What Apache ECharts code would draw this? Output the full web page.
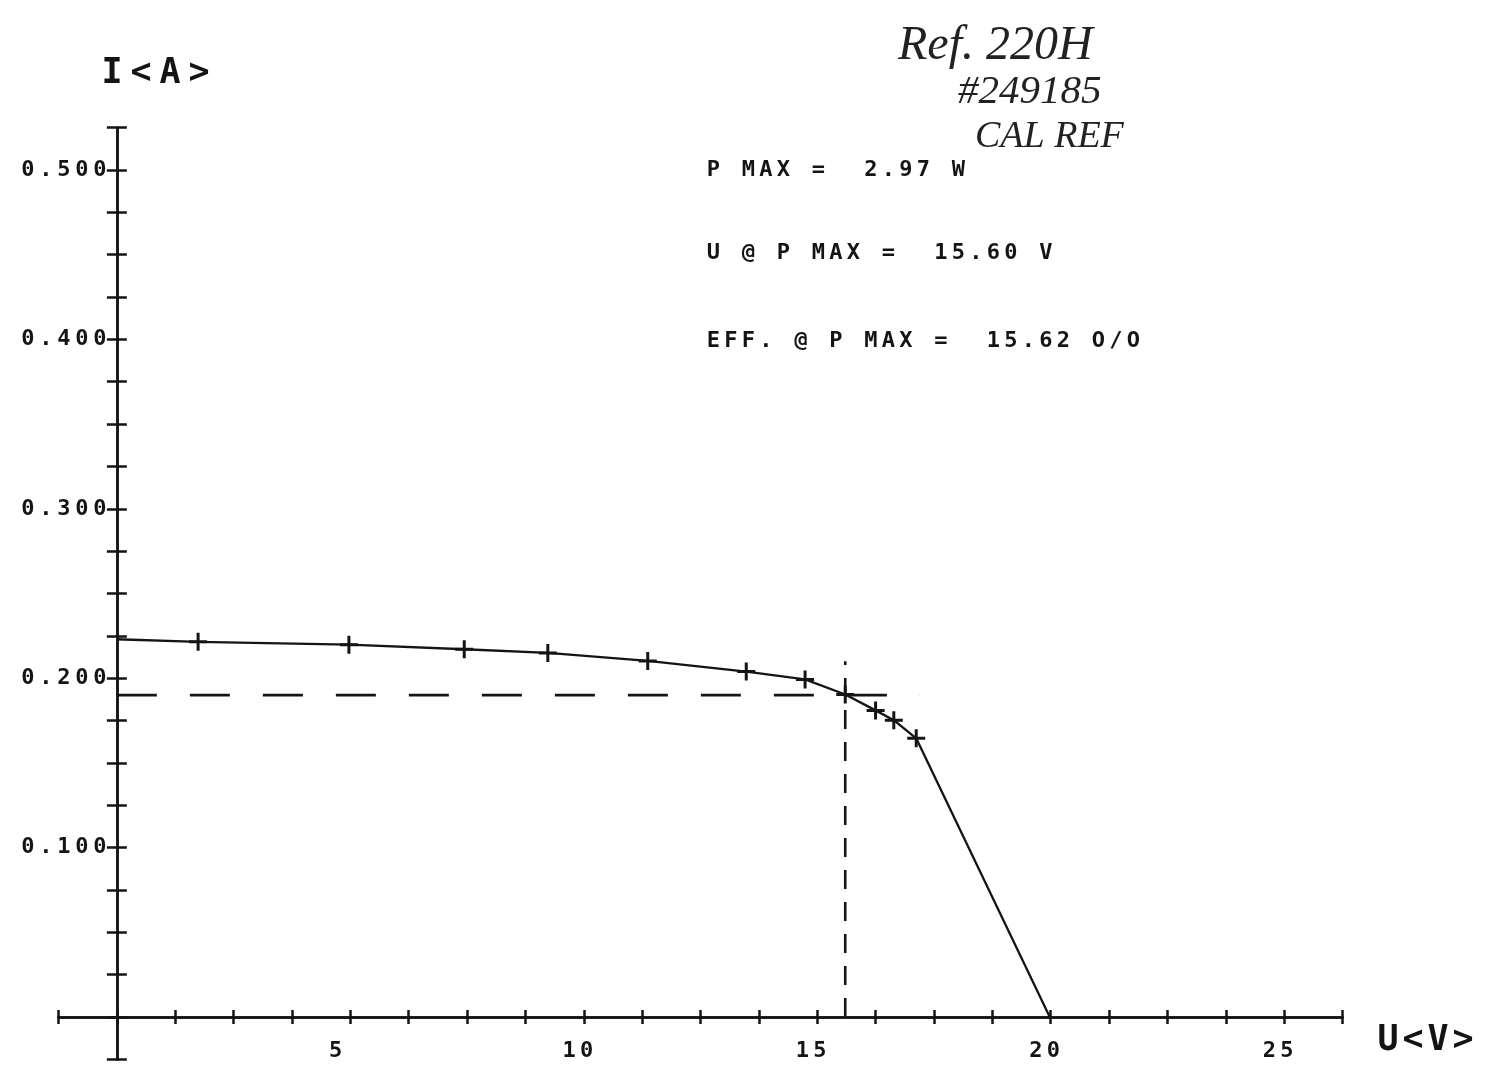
<!DOCTYPE html>
<html>
<head>
<meta charset="utf-8">
<script src="https://cdn.jsdelivr.net/npm/echarts@6/dist/echarts.min.js"></script>
<style>
html,body{margin:0;padding:0;background:#ffffff;}
#chart{width:1506px;height:1088px;}
</style>
</head>
<body>
<div id="chart"></div>
<script>
// ---- data ----
const voltage = [0, 1.74, 4.97, 7.44, 9.23, 11.37, 13.48, 14.74, 15.60, 16.25, 16.64, 17.12, 19.98];
const current = [0.2230, 0.2215, 0.2198, 0.2171, 0.2149, 0.2102, 0.2039, 0.1993, 0.1904, 0.1810, 0.1752, 0.1645, 0];
const hDashV = [0, 17.2];
const hDashI = [0.19, 0.19];
const vDashV = [15.6, 15.6];
const vDashI = [0, 0.21];
const xLabelValues = [5, 10, 15, 20, 25];
const xTickLabels = ['5', '10', '15', '20', '25'];
const yLabelValues = [0.1, 0.2, 0.3, 0.4, 0.5];
const yTickLabels = ['0.100', '0.200', '0.300', '0.400', '0.500'];
const xAxisName = 'U<V>';
const yAxisName = 'I<A>';
const notes = ['P MAX =  2.97 W', 'U @ P MAX =  15.60 V', 'EFF. @ P MAX =  15.62 O/O'];
const handNotes = ['Ref. 220H', '#249185', 'CAL REF'];
const xRange = [-1.25, 26.25, 1.25];
const yRange = [-0.025, 0.525, 0.025];

// ---- styling ----
const INK = '#141414';
const MONO = '"DejaVu Sans Mono", "Liberation Mono", monospace';
const HAND = '"Liberation Serif", "DejaVu Serif", serif';
const CROSS = 'path://M-1.5,-9L1.5,-9L1.5,9L-1.5,9ZM-9,-1.5L9,-1.5L9,1.5L-9,1.5Z';

function cells(str, key) {
  return str.split('').map(ch => '{' + key + '|' + ch + '}').join('');
}
function findLabel(v, vals, labels) {
  for (let i = 0; i < vals.length; i++) {
    if (Math.abs(v - vals[i]) < 1e-6) return labels[i];
  }
  return null;
}

const labelCell = (w, size) => ({
  width: w, color: INK, fontSize: size,
  fontFamily: MONO, fontWeight: 'bold'
});
const monoCellG = (w, size) => ({
  width: w, align: 'center', fill: INK, fontSize: size,
  fontFamily: MONO, fontWeight: 'bold'
});

const chart = echarts.init(document.getElementById('chart'), null, {renderer: 'canvas'});

const gridRect = {left: 58.5, right: 163.5, top: 127.65, bottom: 28.65, outerBoundsMode: 'none', containLabel: false};

const axisLineStyle = {color: INK, width: 2.5};

const option = {
  backgroundColor: '#ffffff',
  animation: false,
  grid: [Object.assign({}, gridRect), Object.assign({}, gridRect)],
  xAxis: [
    {
      gridIndex: 0, type: 'value',
      min: xRange[0], max: xRange[1], interval: xRange[2],
      axisLine: {show: true, onZero: true, lineStyle: axisLineStyle},
      axisTick: {show: true, inside: false, length: 7, lineStyle: axisLineStyle},
      splitLine: {show: false},
      axisLabel: {
        show: true, margin: -19, showMinLabel: true, showMaxLabel: true,
        formatter: function (v) {
          const t = findLabel(v, xLabelValues, xTickLabels);
          if (t === null) return '';
          const padded = t.length < 2 ? t + ' ' : t;
          return cells(padded, 'c') + '{p| }';
        },
        rich: {c: labelCell(17.5, 22), p: {width: 12, fontSize: 22, fontFamily: MONO}}
      }
    },
    {
      gridIndex: 1, type: 'value',
      min: xRange[0], max: xRange[1], interval: xRange[2],
      axisLine: {show: true, onZero: true, lineStyle: axisLineStyle},
      axisTick: {show: true, inside: true, length: 7, lineStyle: axisLineStyle},
      splitLine: {show: false},
      axisLabel: {show: false}
    }
  ],
  yAxis: [
    {
      gridIndex: 0, type: 'value',
      min: yRange[0], max: yRange[1], interval: yRange[2],
      axisLine: {show: true, onZero: true, lineStyle: axisLineStyle},
      axisTick: {show: true, inside: false, length: 10, lineStyle: axisLineStyle},
      splitLine: {show: false},
      axisLabel: {
        show: true, margin: -48, showMinLabel: true, showMaxLabel: true,
        formatter: function (v) {
          const t = findLabel(v, yLabelValues, yTickLabels);
          return t === null ? '' : cells(t, 'c');
        },
        rich: {c: labelCell(18, 22)}
      }
    },
    {
      gridIndex: 1, type: 'value',
      min: yRange[0], max: yRange[1], interval: yRange[2],
      axisLine: {show: true, onZero: true, lineStyle: axisLineStyle},
      axisTick: {show: true, inside: true, length: 10, lineStyle: axisLineStyle},
      splitLine: {show: false},
      axisLabel: {show: false}
    }
  ],
  series: [
    {
      name: 'hdash', type: 'line', xAxisIndex: 0, yAxisIndex: 0,
      data: hDashV.map((v, i) => [v, hDashI[i]]),
      symbol: 'none', silent: true, z: 2,
      lineStyle: {color: INK, width: 2.6, type: [40, 33]}
    },
    {
      name: 'vdash', type: 'line', xAxisIndex: 0, yAxisIndex: 0,
      data: vDashV.map((v, i) => [v, vDashI[i]]),
      symbol: 'none', silent: true, z: 2,
      lineStyle: {color: INK, width: 2.6, type: [19, 13]}
    },
    {
      name: 'I-V', type: 'line', xAxisIndex: 0, yAxisIndex: 0,
      data: voltage.map((v, i) => ({
        value: [v, current[i]],
        symbol: (i === 0 || i === voltage.length - 1) ? 'none' : CROSS
      })),
      symbol: CROSS, symbolSize: 18, showSymbol: true, showAllSymbol: true,
      itemStyle: {color: INK, borderWidth: 0},
      lineStyle: {color: INK, width: 2.3},
      z: 3
    }
  ],
  graphic: [
    {type: 'text', x: 97.5, y: 74, silent: true,
      style: {text: cells(yAxisName, 'c'), rich: {c: monoCellG(29, 35)}, textAlign: 'left', textVerticalAlign: 'middle'}},
    {type: 'text', x: 1375.5, y: 1041, silent: true,
      style: {text: cells(xAxisName, 'c'), rich: {c: monoCellG(25, 35)}, textAlign: 'left', textVerticalAlign: 'middle'}},
    {type: 'text', x: 704.5, y: 170, silent: true,
      style: {text: cells(notes[0], 'c'), rich: {c: monoCellG(17.5, 22)}, textAlign: 'left', textVerticalAlign: 'middle'}},
    {type: 'text', x: 704.5, y: 253, silent: true,
      style: {text: cells(notes[1], 'c'), rich: {c: monoCellG(17.5, 22)}, textAlign: 'left', textVerticalAlign: 'middle'}},
    {type: 'text', x: 704.5, y: 341, silent: true,
      style: {text: cells(notes[2], 'c'), rich: {c: monoCellG(17.5, 22)}, textAlign: 'left', textVerticalAlign: 'middle'}},
    {type: 'text', x: 898, y: 46, silent: true,
      style: {text: handNotes[0], fill: '#222', font: 'italic 48px ' + HAND, textAlign: 'left', textVerticalAlign: 'middle'}},
    {type: 'text', x: 958, y: 92, silent: true,
      style: {text: handNotes[1], fill: '#222', font: 'italic 41px ' + HAND, textAlign: 'left', textVerticalAlign: 'middle'}},
    {type: 'text', x: 975, y: 137, silent: true,
      style: {text: handNotes[2], fill: '#222', font: 'italic 38px ' + HAND, textAlign: 'left', textVerticalAlign: 'middle'}}
  ]
};

chart.setOption(option);
</script>
</body>
</html>
